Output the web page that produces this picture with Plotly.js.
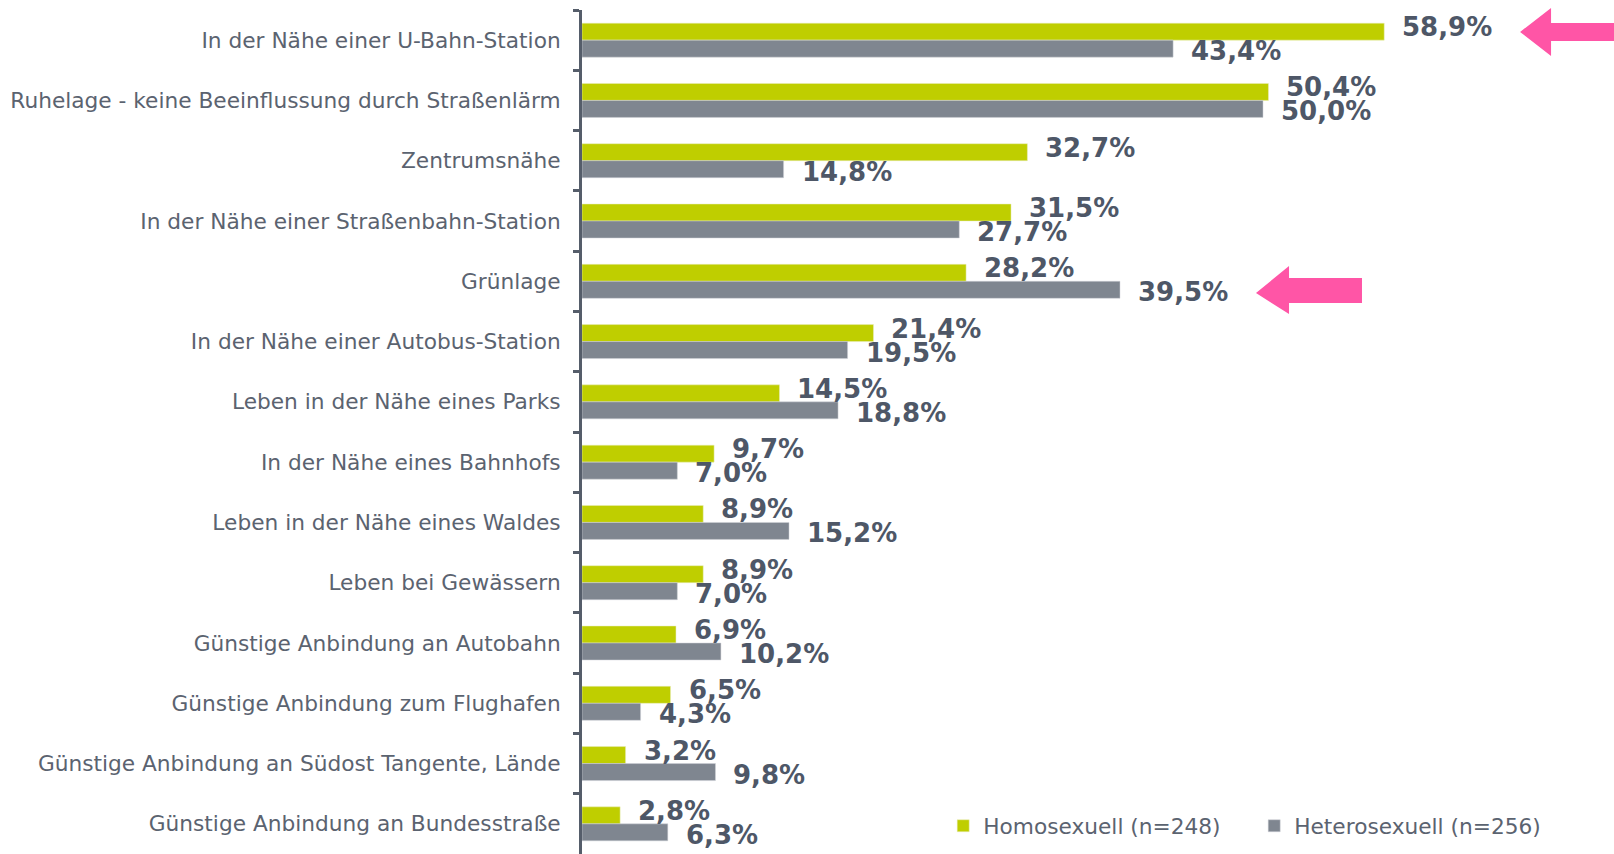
<!DOCTYPE html>
<html>
<head>
<meta charset="utf-8">
<script src="https://cdn.plot.ly/plotly-3.0.1.min.js"></script>
<style>html,body{margin:0;padding:0;background:#fff;}#chart{width:1614px;height:854px;}</style>
</head>
<body>
<div id="chart"></div>
<script>
const categories = [
  "In der Nähe einer U-Bahn-Station",
  "Ruhelage - keine Beeinflussung durch Straßenlärm",
  "Zentrumsnähe",
  "In der Nähe einer Straßenbahn-Station",
  "Grünlage",
  "In der Nähe einer Autobus-Station",
  "Leben in der Nähe eines Parks",
  "In der Nähe eines Bahnhofs",
  "Leben in der Nähe eines Waldes",
  "Leben bei Gewässern",
  "Günstige Anbindung an Autobahn",
  "Günstige Anbindung zum Flughafen",
  "Günstige Anbindung an Südost Tangente, Lände",
  "Günstige Anbindung an Bundesstraße"
];
const homosexuell = [58.9, 50.4, 32.7, 31.5, 28.2, 21.4, 14.5, 9.7, 8.9, 8.9, 6.9, 6.5, 3.2, 2.8];
const heterosexuell = [43.4, 50.0, 14.8, 27.7, 39.5, 19.5, 18.8, 7.0, 15.2, 7.0, 10.2, 4.3, 9.8, 6.3];
const seriesNames = ["Homosexuell (n=248)", "Heterosexuell (n=256)"];

const GREEN = "#bfce00", GREY = "#7f8690", TXT = "#5b6370", LBL = "#4e5767", PINK = "#ff55a6";
const fmt = v => v.toFixed(1).replace(".", ",") + "%";

const traces = [
  {type: "bar", orientation: "h", name: seriesNames[0], y: categories, x: homosexuell,
   marker: {color: GREEN, line: {color: "#e8edc0", width: 0.5}}, hoverinfo: "x+y"},
  {type: "bar", orientation: "h", name: seriesNames[1], y: categories, x: heterosexuell,
   marker: {color: GREY, line: {color: "#d0d3d8", width: 0.5}}, hoverinfo: "x+y"}
];

const labelFont = {family: "DejaVu Sans", size: 26, color: LBL, weight: "bold"};
const annotations = [];
categories.forEach((c, i) => {
  annotations.push({x: homosexuell[i], y: c, xref: "x", yref: "y", text: fmt(homosexuell[i]),
    showarrow: false, xanchor: "left", yanchor: "middle", xshift: 16, yshift: 13, font: labelFont});
  annotations.push({x: heterosexuell[i], y: c, xref: "x", yref: "y", text: fmt(heterosexuell[i]),
    showarrow: false, xanchor: "left", yanchor: "middle", xshift: 16, yshift: -11, font: labelFont});
});

const arrow1 = "M0.909,0.974 L0.939,1.0024 L0.939,0.9846 L1.0,0.9846 L1.0,0.9633 L0.939,0.9633 L0.939,0.9455 Z";
const arrow2 = "M0.6531,0.6647 L0.6851,0.6967 L0.6851,0.6825 L0.7558,0.6825 L0.7558,0.6528 L0.6851,0.6528 L0.6851,0.6398 Z";

const layout = {
  width: 1614, height: 854,
  margin: {l: 582, r: 0, t: 10, b: 0},
  paper_bgcolor: "#fff", plot_bgcolor: "#fff",
  barmode: "group", bargap: 0.436, bargroupgap: 0,
  font: {family: "DejaVu Sans", color: TXT},
  xaxis: {range: [0, 75.77], visible: false, showgrid: false, zeroline: false, fixedrange: true},
  yaxis: {autorange: "reversed", type: "category", showline: true, linecolor: "#555d6a", linewidth: 3,
          ticks: "outside", tickson: "boundaries", ticklen: 6, tickwidth: 3, tickcolor: "#555d6a",
          ticklabelstandoff: 14, tickfont: {family: "DejaVu Sans", size: 21.7, color: TXT},
          showgrid: false, zeroline: false, fixedrange: true},
  showlegend: true,
  legend: {orientation: "h", x: 0.35, y: 0.033, xanchor: "left", yanchor: "middle",
           font: {family: "DejaVu Sans", size: 21.7, color: TXT}, itemwidth: 30, entrywidth: 266,
           bgcolor: "rgba(0,0,0,0)", traceorder: "normal"},
  annotations: annotations,
  shapes: [
    {type: "path", xref: "paper", yref: "paper", path: arrow1, fillcolor: PINK, line: {width: 0}, layer: "above"},
    {type: "path", xref: "paper", yref: "paper", path: arrow2, fillcolor: PINK, line: {width: 0}, layer: "above"}
  ]
};

Plotly.newPlot("chart", traces, layout, {displayModeBar: false, staticPlot: true});
</script>
</body>
</html>
